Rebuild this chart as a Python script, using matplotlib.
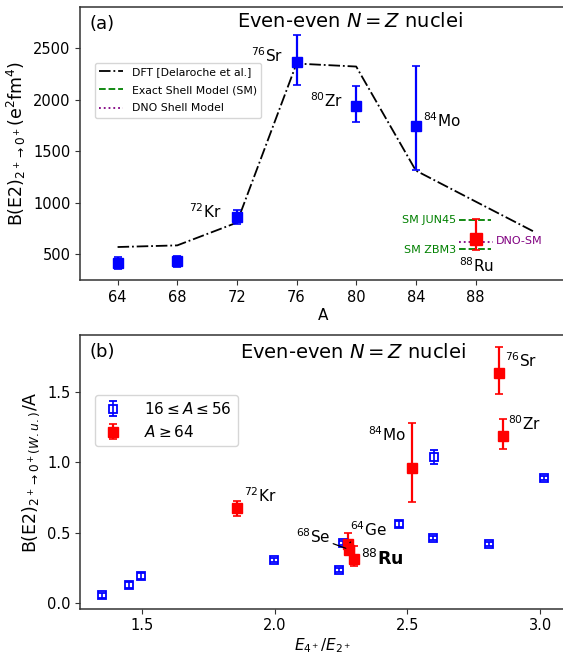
import numpy as np
import matplotlib
matplotlib.use("Agg")
import matplotlib.pyplot as plt

# ---------------- panel (a) data ----------------
A_exp = [64, 68, 72, 76, 80, 84]
be2_exp = [416, 432, 861, 2368, 1942, 1748]
be2_lo = [58, 54, 70, 220, 160, 430]
be2_hi = [62, 50, 65, 265, 195, 585]

A_ru = [88]
be2_ru = [645]
ru_lo = [100]
ru_hi = [200]

A_dft = [64, 68, 72, 76, 80, 84, 88, 92]
be2_dft = [571, 587, 808, 2352, 2323, 1313, 1013, 714]

sm_jun45 = 832
sm_zbm3 = 555
dno_sm = 619
sm_A = [86.9, 89.05]
dno_A = [86.9, 89.2]

labels_a = ["$^{72}$Kr", "$^{76}$Sr", "$^{80}$Zr", "$^{84}$Mo", "$^{88}$Ru"]

# ---------------- panel (b) data ----------------
r_light = [1.351, 1.452, 1.496, 1.999, 2.241, 2.256, 2.467, 2.597, 2.599, 2.806, 3.014]
b_light = [0.056, 0.130, 0.193, 0.306, 0.236, 0.425, 0.562, 0.461, 1.039, 0.420, 0.886]
e_light = [0.015, 0.02, 0.02, 0.015, 0.015, 0.015, 0.02, 0.015, 0.05, 0.015, 0.015]

r_heavy = [1.860, 2.275, 2.280, 2.300, 2.518, 2.844, 2.859]
b_heavy = [0.673, 0.420, 0.380, 0.312, 0.957, 1.635, 1.186]
h_lo = [0.054, 0.06, 0.04, 0.044, 0.237, 0.151, 0.095]
h_hi = [0.054, 0.08, 0.04, 0.096, 0.319, 0.179, 0.118]


def style_axes(ax):
    for s in ax.spines.values():
        s.set_color("#333333")
        s.set_linewidth(1.1)
    ax.tick_params(labelsize=10.5, color="#333333")


def main():
    fig = plt.figure(figsize=(5.63, 6.56), dpi=100)
    W, H = 563.0, 656.0

    # ---------------- (a) ----------------
    ax1 = fig.add_axes([80.3 / W, (H - 280.3) / H, (565 - 80.3) / W, 273.6 / H])
    ax1.plot(A_dft, be2_dft, "k-.", lw=1.3, label="DFT [Delaroche et al.]")
    ax1.plot(sm_A, [sm_jun45] * 2, "--", color="green", lw=1.3,
             label="Exact Shell Model (SM)")
    ax1.plot(sm_A, [sm_zbm3] * 2, "--", color="green", lw=1.3)
    ax1.plot(dno_A, [dno_sm] * 2, ":", color="purple", lw=1.3, label="DNO Shell Model")
    ax1.errorbar(A_exp, be2_exp, yerr=[be2_lo, be2_hi], fmt="s", color="b",
                 ms=7, capsize=3, elinewidth=1.6, capthick=1.2)
    ax1.errorbar(A_ru, be2_ru, yerr=[ru_lo, ru_hi], fmt="s", color="r",
                 ms=8, capsize=3, elinewidth=1.6, capthick=1.2)

    ax1.set_xlim(61.5, 94)
    ax1.set_ylim(248, 2904)
    ax1.set_xticks([64, 68, 72, 76, 80, 84, 88])
    ax1.set_yticks([500, 1000, 1500, 2000, 2500])
    ax1.set_xlabel("A", fontsize=11, labelpad=2)
    ax1.set_ylabel(r"B(E2)$_{2^+\rightarrow0^+}$(e$^2$fm$^4$)", fontsize=12.5, labelpad=4)
    style_axes(ax1)

    ax1.text(0.018, 0.97, "(a)", transform=ax1.transAxes, fontsize=13, va="top")
    ax1.text(79.6, 2757, "Even-even $N=Z$ nuclei", fontsize=14, ha="center", va="center")

    ax1.text(71.0, 910, labels_a[0], fontsize=11, ha="right", va="center")
    ax1.text(75.1, 2426, labels_a[1], fontsize=11, ha="right", va="center")
    ax1.text(79.1, 1990, labels_a[2], fontsize=11, ha="right", va="center")
    ax1.text(84.5, 1797, labels_a[3], fontsize=11, ha="left", va="center")
    ax1.text(88.1, 394, labels_a[4], fontsize=11, ha="center", va="center")

    ax1.text(86.7, sm_jun45, "SM JUN45", fontsize=8, color="green", ha="right", va="center")
    ax1.text(86.7, sm_zbm3 - 10, "SM ZBM3", fontsize=8, color="green", ha="right", va="center")
    ax1.text(89.35, dno_sm + 10, "DNO-SM", fontsize=8, color="purple", ha="left", va="center")

    ax1.legend(loc="upper left", bbox_to_anchor=(0.03, 0.795), borderaxespad=0,
               fontsize=7.8, handlelength=2.2, labelspacing=0.75)

    # ---------------- (b) ----------------
    ax2 = fig.add_axes([80.3 / W, (H - 608.7) / H, (565 - 80.3) / W, 273.7 / H])
    ax2.errorbar(r_light, b_light, yerr=e_light, fmt="s", mfc="none", mec="b",
                 color="b", ms=6, mew=1.3, capsize=3, elinewidth=1.2,
                 label=r"$16 \leq A \leq 56$")
    ax2.errorbar(r_heavy, b_heavy, yerr=[h_lo, h_hi], fmt="s", color="r",
                 ms=7, capsize=3, elinewidth=1.6, capthick=1.2, label=r"$A \geq 64$")

    ax2.set_xlim(1.2686, 3.093)
    ax2.set_ylim(-0.038, 1.902)
    ax2.set_xticks([1.5, 2.0, 2.5, 3.0])
    ax2.set_yticks([0.0, 0.5, 1.0, 1.5])
    ax2.set_xlabel(r"$E_{4^+}/E_{2^+}$", fontsize=11, labelpad=2)
    ax2.set_ylabel(r"B(E2)$_{2^+\rightarrow0^+(W.u.)}$/A", fontsize=12.5, labelpad=4)
    style_axes(ax2)

    ax2.text(0.018, 0.97, "(b)", transform=ax2.transAxes, fontsize=13, va="top")
    ax2.text(0.563, 0.935, "Even-even $N=Z$ nuclei", transform=ax2.transAxes,
             fontsize=14, ha="center", va="center")

    ax2.text(2.869, 1.72, "$^{76}$Sr", fontsize=11, ha="left", va="center")
    ax2.text(2.878, 1.272, "$^{80}$Zr", fontsize=11, ha="left", va="center")
    ax2.text(2.493, 1.194, "$^{84}$Mo", fontsize=11, ha="right", va="center")
    ax2.text(1.884, 0.763, "$^{72}$Kr", fontsize=11, ha="left", va="center")
    ax2.text(2.324, 0.316, r"$^{88}$$\mathbf{Ru}$", fontsize=12.5, ha="left", va="center")
    ax2.annotate("$^{68}$Se", xy=(2.268, 0.39), xytext=(2.21, 0.475), fontsize=11,
                 ha="right", va="center",
                 arrowprops=dict(arrowstyle="-", lw=0.9, color="k", shrinkA=0, shrinkB=0))
    ax2.annotate("$^{64}$Ge", xy=(2.283, 0.43), xytext=(2.285, 0.52), fontsize=11,
                 ha="left", va="center",
                 arrowprops=dict(arrowstyle="-", lw=0.9, color="k", shrinkA=0, shrinkB=0))

    ax2.legend(loc="upper left", bbox_to_anchor=(0.03, 0.781), borderaxespad=0,
               fontsize=11, handlelength=1.6, handletextpad=1.2, labelspacing=0.45)

    fig.savefig("out.png", dpi=100)


if __name__ == "__main__":
    main()
